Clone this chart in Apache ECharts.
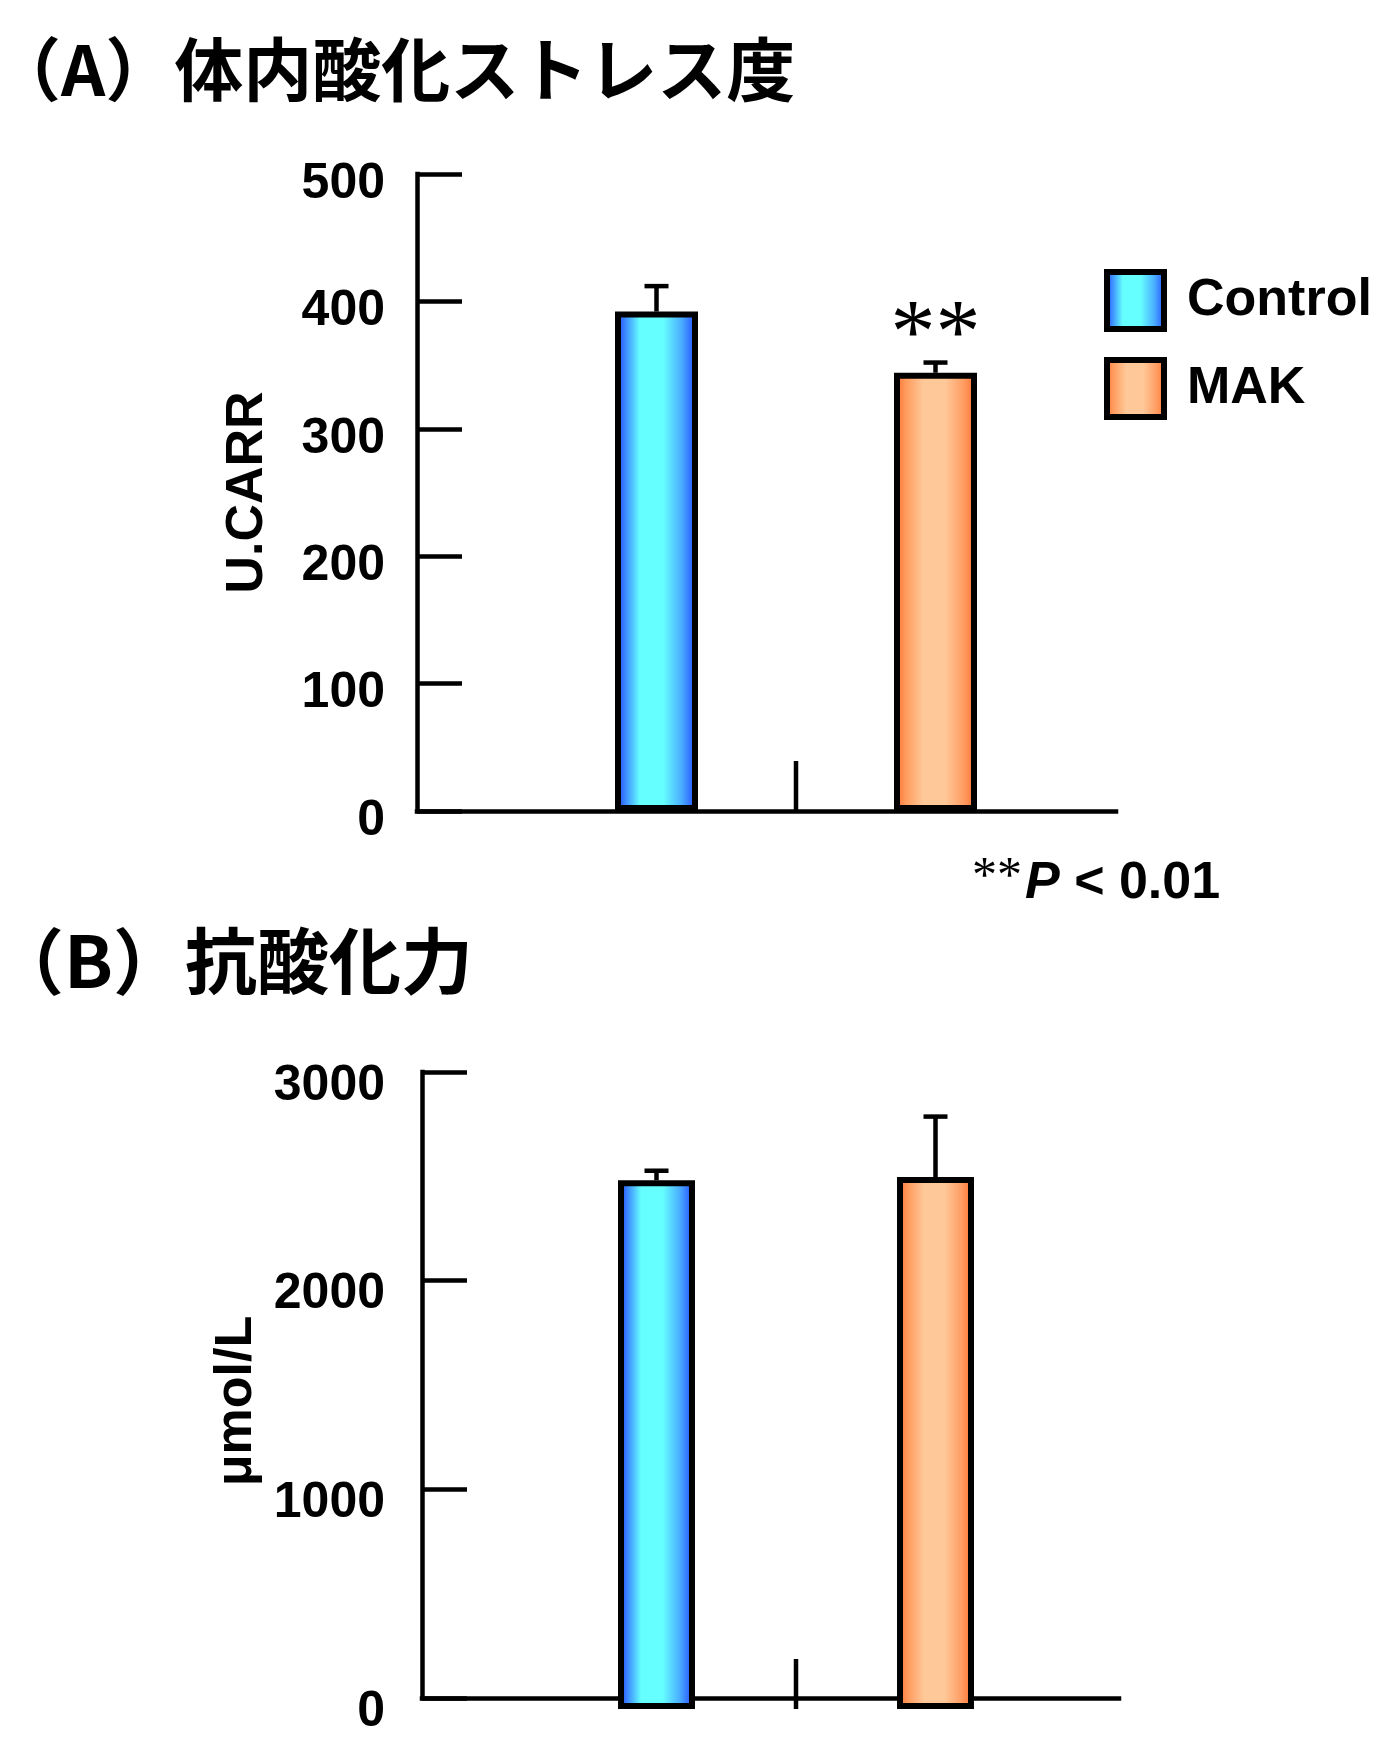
<!DOCTYPE html>
<html>
<head>
<meta charset="utf-8">
<script src="https://cdn.jsdelivr.net/npm/echarts@6/dist/echarts.min.js"></script>
<style>
  html, body { margin: 0; padding: 0; background: #fff; }
  #chart { width: 1376px; height: 1737px; }
</style>
</head>
<body>
<div id="chart"></div>
<script>
// Groups compared in both panels
const groups = ['Control', 'MAK'];

// (A) oxidative stress level, U.CARR (mean and error)
const stressMean = [392, 344];
const stressErr = [20, 8];
const stressSig = ['', '**'];
const stressTicks = [0, 100, 200, 300, 400, 500];

// (B) antioxidant capacity, μmol/L (mean and error)
const antioxMean = [2490, 2505];
const antioxErr = [45, 285];
const antioxSig = ['', ''];
const antioxTicks = [0, 1000, 2000, 3000];

const LATIN = '"Liberation Sans", Arial, Helvetica, sans-serif';
const SERIF = '"Liberation Serif", "Times New Roman", serif';
const CJK = '"Noto Sans CJK JP", "Noto Sans CJK SC", sans-serif';

const fills = {
  Control: new echarts.graphic.LinearGradient(0, 0, 1, 0, [
    { offset: 0, color: '#1b33ff' },
    { offset: 0.12, color: '#3a86ff' },
    { offset: 0.3, color: '#66ffff' },
    { offset: 0.58, color: '#66ffff' },
    { offset: 0.8, color: '#4aaeff' },
    { offset: 1, color: '#1f3dff' }
  ]),
  MAK: new echarts.graphic.LinearGradient(0, 0, 1, 0, [
    { offset: 0, color: '#ff6a28' },
    { offset: 0.14, color: '#ff9a5c' },
    { offset: 0.35, color: '#ffc898' },
    { offset: 0.62, color: '#ffc898' },
    { offset: 0.84, color: '#ff9c62' },
    { offset: 1, color: '#ff6a28' }
  ])
};

// panel geometry (frame grid carries the axes, bar grid carries the groups)
const panels = [
  { top: 174, height: 637, frameLeft: 417, frameRight: 1116, barLeft: 517, barRight: 1075,
    ticks: stressTicks, mean: stressMean, err: stressErr, sig: stressSig, barWidth: 83,
    name: 'U.CARR', nameGap: 143, nameShift: 0, labelMargin: 32, labelLine: 20 },
  { top: 1072, height: 637, frameLeft: 422, frameRight: 1119, barLeft: 517, barRight: 1075,
    ticks: antioxTicks, mean: antioxMean, err: antioxErr, sig: antioxSig, barWidth: 77,
    name: 'μmol/L', nameGap: 149, nameShift: 32, labelMargin: 37, labelLine: 28 }
];

const LINE_W = 4.5;
const grid = [], xAxis = [], yAxis = [], series = [];

panels.forEach((p, k) => {
  const fi = k * 2, bi = k * 2 + 1;
  const tMin = p.ticks[0], tMax = p.ticks[p.ticks.length - 1], tInt = p.ticks[1] - p.ticks[0];

  grid.push({ left: p.frameLeft, top: p.top, width: p.frameRight - p.frameLeft, height: p.height });
  grid.push({ left: p.barLeft, top: p.top, width: p.barRight - p.barLeft, height: p.height });

  xAxis.push({
    gridIndex: fi, type: 'value', min: 0, max: 1,
    axisLine: { show: true, lineStyle: { color: '#000', width: LINE_W, cap: 'square' } },
    axisTick: { show: false }, axisLabel: { show: false }, splitLine: { show: false }
  });
  xAxis.push({ gridIndex: bi, type: 'category', data: groups, show: false });

  yAxis.push({
    gridIndex: fi, type: 'value', min: tMin, max: tMax, interval: tInt,
    axisLine: { show: true, lineStyle: { color: '#000', width: LINE_W, cap: 'square' } },
    axisTick: { show: true, inside: true, length: 45, lineStyle: { color: '#000', width: LINE_W } },
    axisLabel: {
      color: '#000', fontFamily: LATIN, fontWeight: 'bold', fontSize: 50,
      margin: p.labelMargin, verticalAlign: 'top', lineHeight: p.labelLine,
      formatter: (v) => String(v)
    },
    splitLine: { show: false },
    name: p.name, nameLocation: 'middle', nameGap: p.nameGap,
    nameTextStyle: {
      color: '#000', fontFamily: LATIN, fontWeight: 'bold', fontSize: 52,
      padding: [0, p.nameShift, 0, 0]
    }
  });
  yAxis.push({ gridIndex: bi, type: 'value', min: tMin, max: tMax, show: false });

  groups.forEach((g, i) => {
    series.push({
      name: g, type: 'bar', xAxisIndex: bi, yAxisIndex: bi,
      barWidth: p.barWidth, barGap: '-100%',
      itemStyle: { color: fills[g], borderColor: '#000', borderWidth: 6 },
      data: p.mean.map((v, j) => (j === i ? v : '-'))
    });
  });

  // error bars (upper whisker) plus significance marks
  series.push({
    type: 'custom', xAxisIndex: bi, yAxisIndex: bi, z: 5, silent: true,
    data: p.mean.map((m, j) => [j, m, m + p.err[j]]),
    renderItem(params, api) {
      const j = api.value(0);
      const base = api.coord([j, api.value(1)]);
      const top = api.coord([j, api.value(2)]);
      const children = [
        { type: 'line', shape: { x1: base[0], y1: base[1], x2: top[0], y2: top[1] },
          style: { stroke: '#000', lineWidth: LINE_W } },
        { type: 'line', shape: { x1: top[0] - 12, y1: top[1], x2: top[0] + 12, y2: top[1] },
          style: { stroke: '#000', lineWidth: LINE_W } }
      ];
      const s = p.sig[params.dataIndex];
      if (s) {
        children.push({
          type: 'text', x: top[0], y: top[1] - 24,
          style: { text: s, font: '90px ' + SERIF, fill: '#000', align: 'center', verticalAlign: 'middle' }
        });
      }
      return { type: 'group', children };
    }
  });

  // short divider tick between the two groups
  series.push({
    type: 'custom', xAxisIndex: bi, yAxisIndex: bi, z: 5, silent: true,
    data: [[0, 0]],
    renderItem(params, api) {
      const a = api.coord([0, tMin]);
      const b = api.coord([1, tMin]);
      const x = (a[0] + b[0]) / 2;
      return { type: 'line', shape: { x1: x, y1: a[1], x2: x, y2: a[1] - 50 },
               style: { stroke: '#000', lineWidth: LINE_W } };
    }
  });
});

const chart = echarts.init(document.getElementById('chart'), null, { renderer: 'canvas' });
chart.setOption({
  animation: false,
  backgroundColor: '#fff',
  grid, xAxis, yAxis, series,
  legend: {
    data: groups, orient: 'vertical', left: 1104, top: 269, padding: 0,
    itemWidth: 57, itemHeight: 57, itemGap: 25, icon: 'rect',
    itemStyle: { borderColor: '#000', borderWidth: 6 },
    textStyle: { color: '#000', fontFamily: LATIN, fontWeight: 'bold', fontSize: 52, padding: [0, 0, 0, 18] },
    selectedMode: false
  },
  graphic: [
    { type: 'text', x: -8, y: 70,
      style: { text: '（A）体内酸化ストレス度', font: 'bold 69px ' + CJK, fill: '#000', verticalAlign: 'middle' } },
    { type: 'text', x: -8, y: 961,
      style: { text: '（B）抗酸化力', font: 'bold 72px ' + CJK, fill: '#000', verticalAlign: 'middle' } },
    { type: 'text', x: 972, y: 878,
      style: { text: '**', font: '50px ' + SERIF, fill: '#000', verticalAlign: 'middle' } },
    { type: 'text', x: 1025, y: 884,
      style: {
        text: '{p|P}{n| < 0.01}', verticalAlign: 'middle', fill: '#000',
        rich: {
          p: { fontFamily: LATIN, fontStyle: 'italic', fontWeight: 'bold', fontSize: 52, fill: '#000' },
          n: { fontFamily: LATIN, fontWeight: 'bold', fontSize: 52, fill: '#000' }
        }
      } }
  ]
});
</script>
</body>
</html>
